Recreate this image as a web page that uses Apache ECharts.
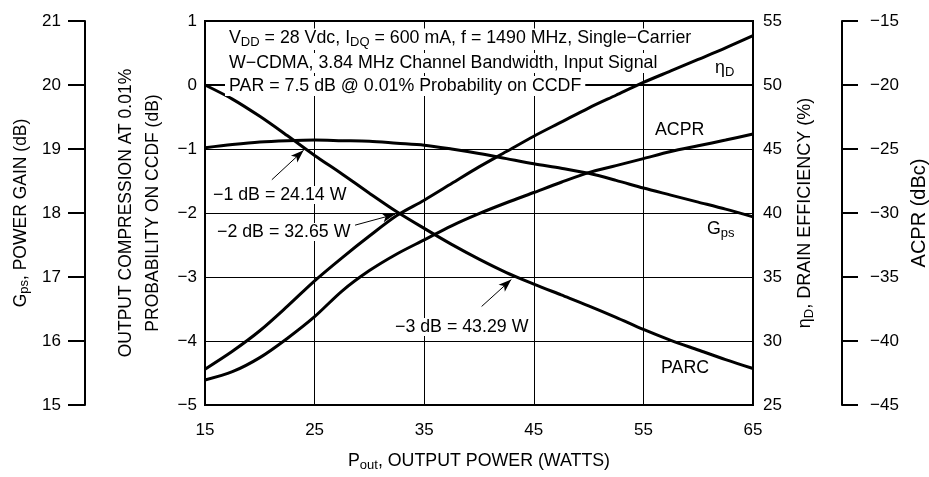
<!DOCTYPE html>
<html><head><meta charset="utf-8">
<script src="https://cdn.jsdelivr.net/npm/echarts@6/dist/echarts.min.js"></script>
<style>html,body{margin:0;padding:0;background:#fff}#c{width:929px;height:477px}</style>
</head><body><div id="c"></div>
<script>
// ---- data ----
const power = [15,17.5,20,22.5,25,27.5,30,32.5,35,37.5,40,42.5,45,47.5,50,52.5,55,57.5,60,62.5,65];
const parc  = [0,-0.22,-0.49,-0.79,-1.10,-1.39,-1.69,-1.98,-2.24,-2.49,-2.72,-2.93,-3.11,-3.28,-3.45,-3.63,-3.82,-3.99,-4.14,-4.29,-4.43];
const gps   = [19.02,19.07,19.11,19.13,19.14,19.13,19.12,19.09,19.06,19.0,18.93,18.85,18.77,18.70,18.62,18.51,18.39,18.28,18.17,18.06,17.94];
const eff   = [27.8,29.2,30.8,32.7,34.7,36.5,38.2,39.8,41.0,42.3,43.6,44.8,46.0,47.1,48.2,49.2,50.2,51.1,52.0,52.9,53.85];
const acpr  = [-43.05,-42.4,-41.3,-39.8,-38.1,-36.1,-34.5,-33.2,-32.1,-31.0,-30.05,-29.2,-28.4,-27.6,-26.85,-26.3,-25.75,-25.2,-24.75,-24.3,-23.83];
const xTicks = {min:15, max:65, step:10};
const compTicks = {min:-5, max:1, step:1};
const gpsTicks = {min:15, max:21, step:1};
const effTicks = {min:25, max:55, step:5};
const acprTicks = {min:-45, max:-15, step:5};
// annotation arrows (tail -> head) in data units of the compression axis
const arrowTails = [[21.1,-1.48],[28.69,-2.19],[40.24,-3.46]];
const arrowHeads = [[24.0,-1.02],[32.34,-2.02],[42.95,-3.04]];
const arrowTexts = ['−1 dB = 24.14 W','−2 dB = 32.65 W','−3 dB = 43.29 W'];

const FONT = "'Liberation Sans',Arial,sans-serif";
const FS = 17;      // tick labels
const FA = 17.8;    // annotations
const mk = (fs) => ({n: {fontSize: fs, fontFamily: FONT, color: '#000'},
                     s: {fontSize: Math.round(fs*0.72), fontFamily: FONT, color: '#000', padding: [Math.round(fs*0.45),0,0,0]}});
const minus = v => String(v).replace('-', '−');
const pairs = ys => power.map((p,i) => [p, ys[i]]);

const chart = echarts.init(document.getElementById('c'), null, {renderer: 'canvas'});
const lineS = {color: '#000', width: 3};
const titleBase = (text, top) => ({
  text, left: 225, top, backgroundColor: '#fff', padding: [1,4,1,4], itemGap: 0,
  textStyle: {fontSize: FA, fontFamily: FONT, fontWeight: 'normal', color: '#000', rich: mk(FA)}
});
const labelS = (align, margin) => ({fontSize: FS, fontFamily: FONT, color: '#000', formatter: minus, align, margin});
const yBase = (t, fn) => ({
  type: 'value', min: t.min, max: t.max, interval: t.step,
  nameLocation: 'middle', nameRotate: 90,
  nameTextStyle: {fontSize: fn, fontFamily: FONT, color: '#000', rich: mk(fn)},
  splitLine: {show: false}
});

const option = {
  animation: false,
  backgroundColor: '#fff',
  title: [
    titleBase('{n|V}{s|DD}{n| = 28 Vdc, I}{s|DQ}{n| = 600 mA, f = 1490 MHz, Single−Carrier}', 27),
    titleBase('{n|W−CDMA, 3.84 MHz Channel Bandwidth, Input Signal}', 53),
    titleBase('{n|PAR = 7.5 dB @ 0.01% Probability on CCDF}', 76)
  ],
  grid: {left: 205, right: 176, top: 21, bottom: 72, containLabel: false, outerBoundsMode: 'none',
         show: true, borderColor: '#000', borderWidth: 2},
  xAxis: {
    type: 'value', min: xTicks.min, max: xTicks.max, interval: xTicks.step,
    axisLine: {show: true, lineStyle: {color: '#000', width: 2}},
    axisTick: {show: false},
    axisLabel: {fontSize: FS, fontFamily: FONT, color: '#000', margin: 17},
    splitLine: {show: true, lineStyle: {color: '#000', width: 1}},
    name: '{n|P}{s|out}{n|, OUTPUT POWER (WATTS)}', nameLocation: 'middle', nameGap: 46,
    nameTextStyle: {fontSize: 17.8, fontFamily: FONT, color: '#000', rich: mk(17.8)}
  },
  yAxis: [
    Object.assign(yBase(compTicks, 17.5), {
      position: 'left', offset: 0,
      axisLine: {show: true, lineStyle: {color: '#000', width: 2}},
      axisTick: {show: false},
      axisLabel: labelS('right', 8),
      splitLine: {show: true, lineStyle: {color: '#000', width: 1}},
      name: 'OUTPUT COMPRESSION AT 0.01%\nPROBABILITY ON CCDF (dB)', nameGap: 33,
      nameTextStyle: {fontSize: 17.5, fontFamily: FONT, color: '#000', lineHeight: 27}
    }),
    Object.assign(yBase(gpsTicks, 17.5), {
      position: 'left', offset: 120,
      axisLine: {show: true, lineStyle: {color: '#000', width: 2}},
      axisTick: {show: true, length: 17, lineStyle: {color: '#000', width: 2}},
      axisLabel: labelS('right', 24),
      name: '{n|G}{s|ps}{n|, POWER GAIN (dB)}', nameGap: 50
    }),
    Object.assign(yBase(effTicks, 18), {
      position: 'right', offset: 0,
      axisLine: {show: true, lineStyle: {color: '#000', width: 2}},
      axisTick: {show: false},
      axisLabel: labelS('left', 10),
      name: '{n|η}{s|D}{n|, DRAIN EFFICIENCY (%)}', nameGap: 42
    }),
    Object.assign(yBase(acprTicks, 20), {
      position: 'right', offset: 89,
      axisLine: {show: true, lineStyle: {color: '#000', width: 2}},
      axisTick: {show: true, length: 16, lineStyle: {color: '#000', width: 2}},
      axisLabel: labelS('left', 28),
      name: 'ACPR (dBc)', nameGap: 64
    })
  ],
  series: [
    {name: 'PARC', type: 'line', yAxisIndex: 0, data: pairs(parc), smooth: 0.3, showSymbol: false, lineStyle: lineS, z: 3,
     markLine: {silent: true, symbol: ['none','arrow'], symbolSize: [7,13], animation: false,
       lineStyle: {color: '#000', width: 1, type: 'solid'}, label: {show: false},
       data: arrowTails.map((t,i) => [{coord: t}, {coord: arrowHeads[i]}])}},
    {name: 'Gps', type: 'line', yAxisIndex: 1, data: pairs(gps), smooth: 0.3, showSymbol: false, lineStyle: lineS, z: 3},
    {name: 'ηD', type: 'line', yAxisIndex: 2, data: pairs(eff), smooth: 0.3, showSymbol: false, lineStyle: lineS, z: 3},
    {name: 'ACPR', type: 'line', yAxisIndex: 3, data: pairs(acpr), smooth: 0.3, showSymbol: false, lineStyle: lineS, z: 3}
  ],
  graphic: [
    {type: 'text', x: 211, y: 195, z: 50, style: {text: arrowTexts[0], font: FA + 'px ' + FONT, fill: '#000', verticalAlign: 'middle', backgroundColor: '#fff', padding: [0,2]}},
    {type: 'text', x: 215, y: 232, z: 50, style: {text: arrowTexts[1], font: FA + 'px ' + FONT, fill: '#000', verticalAlign: 'middle', backgroundColor: '#fff', padding: [0,2]}},
    {type: 'text', x: 393, y: 327, z: 50, style: {text: arrowTexts[2], font: FA + 'px ' + FONT, fill: '#000', verticalAlign: 'middle', backgroundColor: '#fff', padding: [0,2]}},
    {type: 'text', x: 715, y: 68, z: 50, style: {text: '{n|η}{s|D}', rich: mk(FA), verticalAlign: 'middle'}},
    {type: 'text', x: 655, y: 130, z: 50, style: {text: 'ACPR', font: FA + 'px ' + FONT, fill: '#000', verticalAlign: 'middle'}},
    {type: 'text', x: 707, y: 229, z: 50, style: {text: '{n|G}{s|ps}', rich: mk(FA), verticalAlign: 'middle'}},
    {type: 'text', x: 661, y: 368, z: 50, style: {text: 'PARC', font: FA + 'px ' + FONT, fill: '#000', verticalAlign: 'middle'}}
  ]
};
chart.setOption(option);
</script></body></html>
